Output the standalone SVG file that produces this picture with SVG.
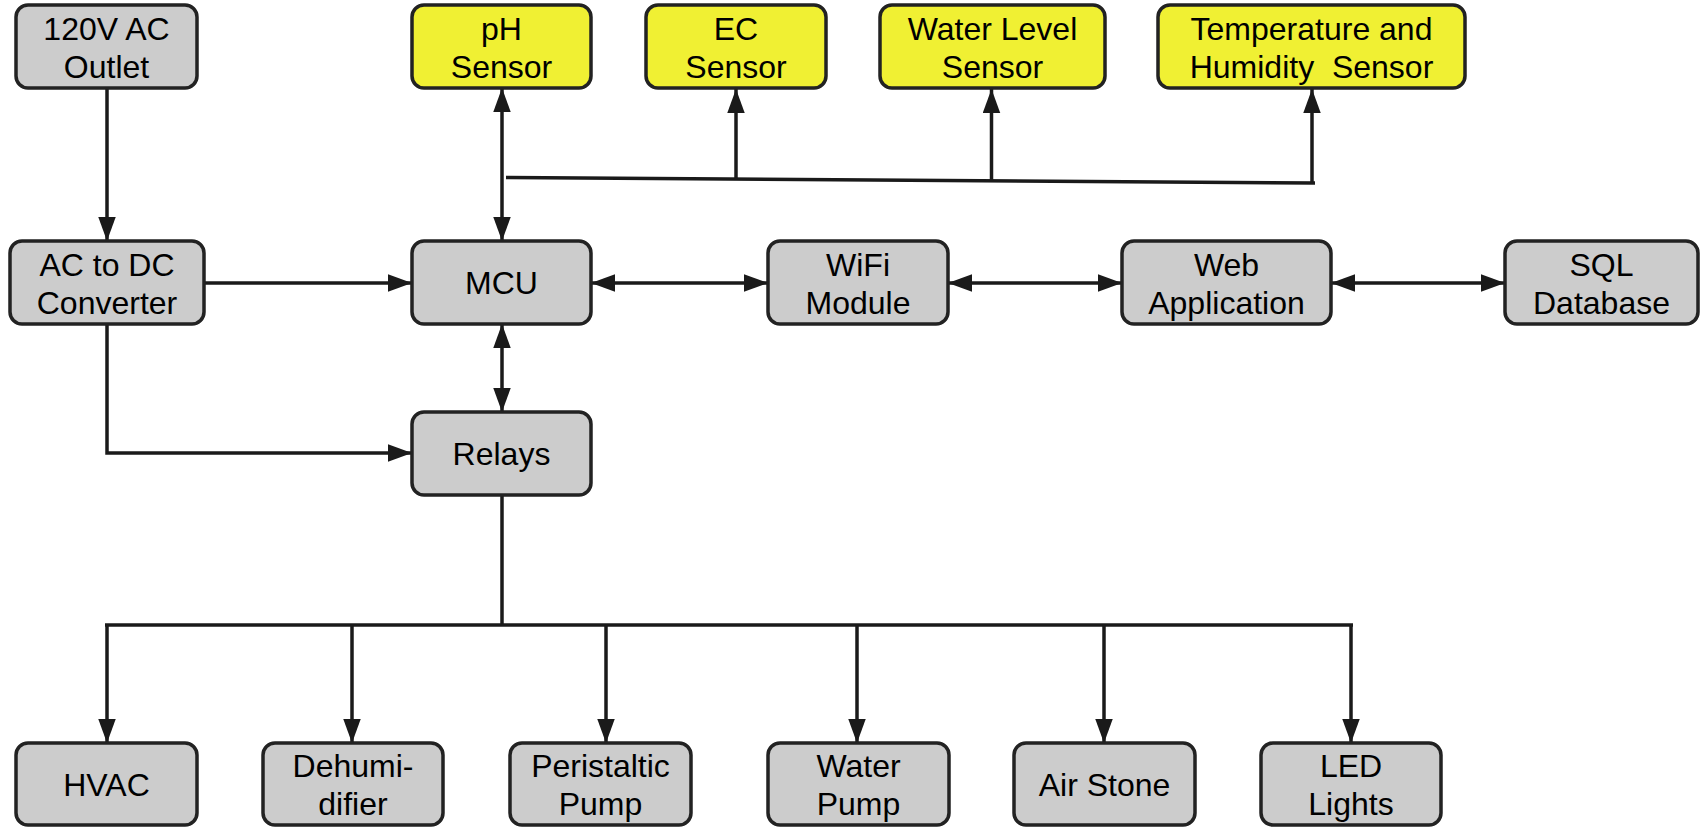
<svg xmlns="http://www.w3.org/2000/svg" width="1708" height="827" viewBox="0 0 1708 827">
<style>
.box{stroke:#222;stroke-width:3.5;}
.g{fill:#cccccc;}
.y{fill:#f0f033;}
text{font-family:"Liberation Sans",Arial,sans-serif;font-size:32px;fill:#000;text-anchor:middle;}
.c{fill:none;stroke:#1a1a1a;stroke-width:3.5;}
.a{marker-end:url(#ah);}
.b{marker-start:url(#ah);marker-end:url(#ah);}
</style>
<defs>
<marker id="ah" markerUnits="userSpaceOnUse" markerWidth="24" markerHeight="18" refX="22" refY="8" orient="auto-start-reverse" viewBox="0 0 22 16">
<path d="M0,0 L22,8 L0,16 z" fill="#1a1a1a"/>
</marker>
</defs>
<rect width="1708" height="827" fill="#fff"/>
<g id="connectors">
<path class="c a" d="M107,88 V241"/>
<path class="c b" d="M502,88 V241"/>
<path class="c" d="M506,177.5 L1315,183"/>
<path class="c a" d="M736,179 V89"/>
<path class="c a" d="M991.5,180.5 V89"/>
<path class="c a" d="M1312,183 V89"/>
<path class="c a" d="M204,283 H412"/>
<path class="c b" d="M591,283 H768"/>
<path class="c b" d="M948,283 H1122"/>
<path class="c b" d="M1331,283 H1505"/>
<path class="c b" d="M502,324 V412"/>
<path class="c a" d="M107,324 V453 H412"/>
<path class="c" d="M502,495 V625"/>
<path class="c" d="M105,625 H1353"/>
<path class="c a" d="M107,625 V743"/>
<path class="c a" d="M352,625 V743"/>
<path class="c a" d="M606,625 V743"/>
<path class="c a" d="M857,625 V743"/>
<path class="c a" d="M1104,625 V743"/>
<path class="c a" d="M1351,625 V743"/>
</g>
<g id="outlet"><rect class="box g" x="16" y="5" width="181" height="83" rx="12"/><text x="106.5" y="40">120V AC</text><text x="106.5" y="78">Outlet</text></g>
<g id="ph"><rect class="box y" x="412" y="5" width="179" height="83" rx="12"/><text x="501.5" y="40">pH</text><text x="501.5" y="78">Sensor</text></g>
<g id="ec"><rect class="box y" x="646" y="5" width="180" height="83" rx="12"/><text x="736" y="40">EC</text><text x="736" y="78">Sensor</text></g>
<g id="waterlevel"><rect class="box y" x="880" y="5" width="225" height="83" rx="12"/><text x="992.5" y="40">Water Level</text><text x="992.5" y="78">Sensor</text></g>
<g id="temphum"><rect class="box y" x="1158" y="5" width="307" height="83" rx="12"/><text x="1311.5" y="40">Temperature and</text><text x="1311.5" y="78" xml:space="preserve">Humidity  Sensor</text></g>
<g id="acdc"><rect class="box g" x="10" y="241" width="194" height="83" rx="12"/><text x="107" y="276">AC to DC</text><text x="107" y="314">Converter</text></g>
<g id="mcu"><rect class="box g" x="412" y="241" width="179" height="83" rx="12"/><text x="501.5" y="294">MCU</text></g>
<g id="wifi"><rect class="box g" x="768" y="241" width="180" height="83" rx="12"/><text x="858" y="276">WiFi</text><text x="858" y="314">Module</text></g>
<g id="webapp"><rect class="box g" x="1122" y="241" width="209" height="83" rx="12"/><text x="1226.5" y="276">Web</text><text x="1226.5" y="314">Application</text></g>
<g id="sql"><rect class="box g" x="1505" y="241" width="193" height="83" rx="12"/><text x="1601.5" y="276">SQL</text><text x="1601.5" y="314">Database</text></g>
<g id="relays"><rect class="box g" x="412" y="412" width="179" height="83" rx="12"/><text x="501.5" y="465">Relays</text></g>
<g id="hvac"><rect class="box g" x="16" y="743" width="181" height="82" rx="12"/><text x="106.5" y="796">HVAC</text></g>
<g id="dehum"><rect class="box g" x="263" y="743" width="180" height="82" rx="12"/><text x="353" y="777">Dehumi-</text><text x="353" y="815">difier</text></g>
<g id="peristaltic"><rect class="box g" x="510" y="743" width="181" height="82" rx="12"/><text x="600.5" y="777">Peristaltic</text><text x="600.5" y="815">Pump</text></g>
<g id="waterpump"><rect class="box g" x="768" y="743" width="181" height="82" rx="12"/><text x="858.5" y="777">Water</text><text x="858.5" y="815">Pump</text></g>
<g id="airstone"><rect class="box g" x="1014" y="743" width="181" height="82" rx="12"/><text x="1104.5" y="796">Air Stone</text></g>
<g id="led"><rect class="box g" x="1261" y="743" width="180" height="82" rx="12"/><text x="1351" y="777">LED</text><text x="1351" y="815">Lights</text></g>
</svg>
